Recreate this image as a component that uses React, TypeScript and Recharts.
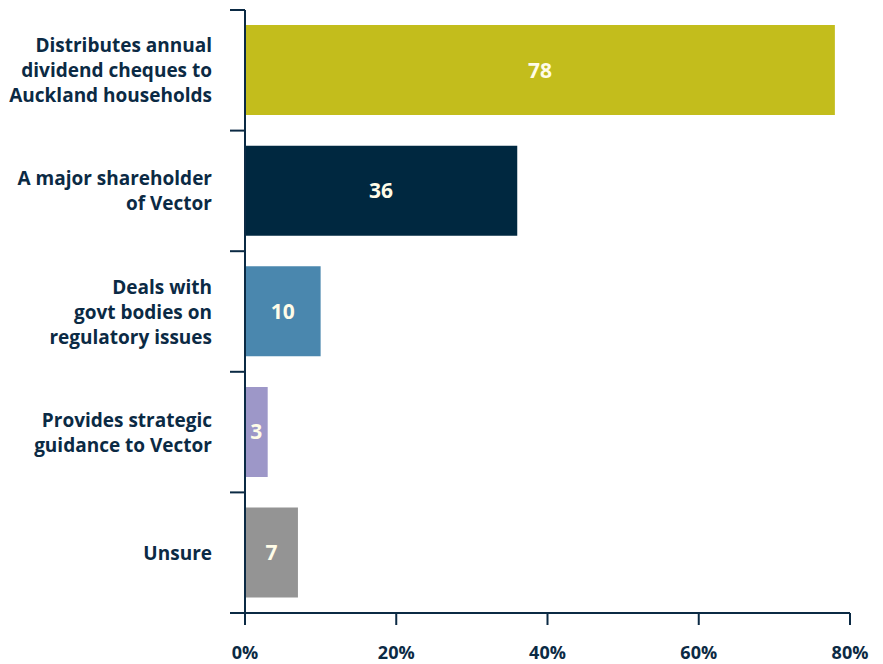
import React from "react";
import { BarChart, Bar, XAxis, YAxis, Cell, LabelList } from "recharts";

const categories = [
  "Distributes annual\ndividend cheques to\nAuckland households",
  "A major shareholder\nof Vector",
  "Deals with\ngovt bodies on\nregulatory issues",
  "Provides strategic\nguidance to Vector",
  "Unsure",
];
const values = [78, 36, 10, 3, 7];
const barColors = ["#C3BD1C", "#002840", "#4A87AE", "#9D97C8", "#949494"];
const xTicks = [0, 20, 40, 60, 80];

const data = categories.map((c, i) => ({ name: c, value: values[i] }));

const NAVY = "#0B2A44";
const FONT = "'Open Sans', 'Noto Sans', sans-serif";
const W = 883;
const H = 664;
const MARGIN = { top: 10, right: 33, left: 0, bottom: 0 };
const XAXIS_H = 51;
const TICK_MARGIN = 33;
const BAND = (H - MARGIN.top - MARGIN.bottom - XAXIS_H) / categories.length;

const CategoryTick = (props: any) => {
  const { x, y, payload, index } = props;
  const lines = String(payload.value).split("\n");
  const lh = 25;
  const ax = x + TICK_MARGIN;
  return (
    <g>
      <line x1={ax - 15} x2={ax} y1={y - BAND / 2} y2={y - BAND / 2} stroke={NAVY} strokeWidth={2} />
      {index === categories.length - 1 && (
        <line x1={ax - 15} x2={ax} y1={y + BAND / 2} y2={y + BAND / 2} stroke={NAVY} strokeWidth={2} />
      )}
      <text x={x} y={y} textAnchor="end" fill={NAVY} fontFamily={FONT} fontWeight={700} fontSize={19}>
        {lines.map((l, i) => (
          <tspan key={i} x={x} dy={i === 0 ? -((lines.length - 1) * lh) / 2 + 7 : lh}>
            {l}
          </tspan>
        ))}
      </text>
    </g>
  );
};

export default function App() {
  return (
    <div style={{ position: "absolute", left: 0, top: 0, background: "#fff" }}>
      <BarChart
        width={W}
        height={H}
        data={data}
        layout="vertical"
        margin={MARGIN}
        barCategoryGap="12.5%"
      >
        <YAxis
          type="category"
          dataKey="name"
          width={245}
          interval={0}
          axisLine={{ stroke: NAVY, strokeWidth: 2 }}
          tickLine={false}
          tickSize={0}
          tickMargin={TICK_MARGIN}
          tick={<CategoryTick />}
        />
        <XAxis
          type="number"
          domain={[0, 80]}
          ticks={xTicks}
          interval={0}
          height={XAXIS_H}
          tickFormatter={(v) => `${v}%`}
          axisLine={{ stroke: NAVY, strokeWidth: 2 }}
          tickLine={{ stroke: NAVY, strokeWidth: 2 }}
          tickSize={12}
          tickMargin={21}
          tick={{ fill: NAVY, fontFamily: FONT, fontWeight: 700, fontSize: 18 }}
        />
        <Bar dataKey="value" isAnimationActive={false}>
          {data.map((d, i) => (
            <Cell key={i} fill={barColors[i]} />
          ))}
          <LabelList
            dataKey="value"
            position="center"
            fill="#FFFCE8"
            fontFamily={FONT}
            fontWeight={700}
            fontSize={21}
          />
        </Bar>
      </BarChart>
    </div>
  );
}
